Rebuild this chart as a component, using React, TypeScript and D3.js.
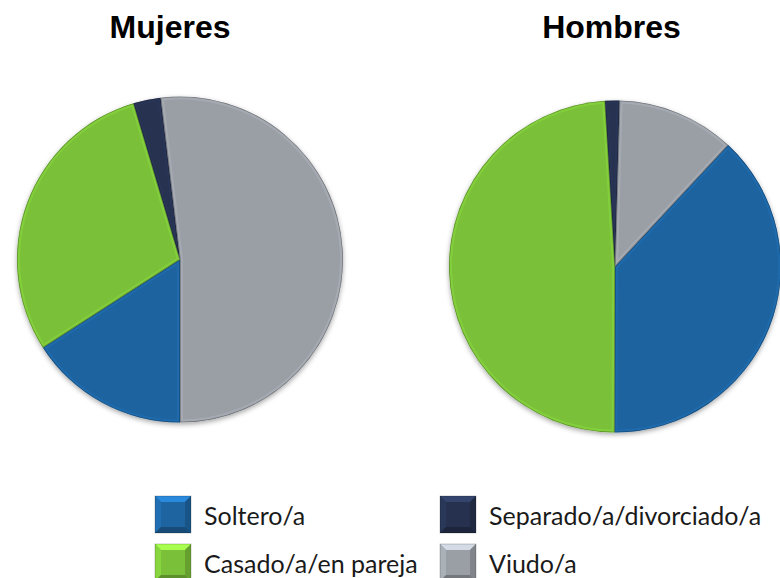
import React from 'react';
import * as d3 from 'd3';

const categories = ['Soltero/a', 'Casado/a/en pareja', 'Separado/a/divorciado/a', 'Viudo/a'];
const mujeresValues = [15.9, 29.5, 2.7, 51.9];
const hombresValues = [38.1, 49.0, 1.4, 11.5];
const titles = ['Mujeres', 'Hombres'];
const colors = ['#1e64a0', '#7ac039', '#25314f', '#9a9fa6'];

const W = 780;
const H = 578;

const pies = [
  { title: titles[0], values: mujeresValues, cx: 180, cy: 259.5, r: 163, start: 180, titleX: 170 },
  { title: titles[1], values: hombresValues, cx: 615, cy: 266.5, r: 166, start: 43, titleX: 611.5 },
];

// legend layout: row-major order as in reference
const legendOrder = [0, 2, 1, 3];
const legendCols = [155, 440];
const legendRows = [496, 544];

function BevelBox({ x, y, w, h, color }: { x: number; y: number; w: number; h: number; color: string }) {
  const b = 6;
  const c = d3.color(color)!;
  const light = c.brighter(0.9).formatHex();
  const mid = c.brighter(0.3).formatHex();
  const dark = c.darker(0.5).formatHex();
  const darker = c.darker(0.8).formatHex();
  return (
    <g>
      <rect x={x} y={y} width={w} height={h} fill={color} />
      <polygon points={`${x},${y} ${x + w},${y} ${x + w - b},${y + b} ${x + b},${y + b}`} fill={light} />
      <polygon points={`${x},${y} ${x + b},${y + b} ${x + b},${y + h - b} ${x},${y + h}`} fill={mid} />
      <polygon points={`${x + w},${y} ${x + w},${y + h} ${x + w - b},${y + h - b} ${x + w - b},${y + b}`} fill={dark} />
      <polygon points={`${x},${y + h} ${x + b},${y + h - b} ${x + w - b},${y + h - b} ${x + w},${y + h}`} fill={darker} />
      <rect x={x} y={y} width={w} height={h} fill="none" stroke="rgba(0,0,0,0.25)" strokeWidth={0.8} />
    </g>
  );
}

export default function App() {
  return (
    <svg width={W} height={H} style={{ position: 'absolute', left: 0, top: 0, background: '#fff' }}>
      <defs>
        <filter id="shadow" x="-20%" y="-20%" width="140%" height="140%">
          <feDropShadow dx="0" dy="2" stdDeviation="2.5" floodColor="#000" floodOpacity="0.35" />
        </filter>
      </defs>
      {pies.map((p, pi) => {
        const pie = d3
          .pie<number>()
          .sort(null)
          .value((d) => d)
          .startAngle((p.start * Math.PI) / 180)
          .endAngle(((p.start + 360) * Math.PI) / 180);
        const arcs = pie(p.values);
        const arc = d3.arc<d3.PieArcDatum<number>>().innerRadius(0).outerRadius(p.r);
        return (
          <g key={pi}>
            <text
              x={p.titleX}
              y={38}
              textAnchor="middle"
              fontFamily="Liberation Sans, Arial, sans-serif"
              fontWeight="bold"
              fontSize={32}
              fill="#000"
            >
              {p.title}
            </text>
            <g transform={`translate(${p.cx},${p.cy})`}>
              <defs>
                {arcs.map((a, i) => (
                  <clipPath id={`clip-${pi}-${i}`} key={i}>
                    <path d={arc(a)!} />
                  </clipPath>
                ))}
              </defs>
              <g filter="url(#shadow)">
                {arcs.map((a, i) => (
                  <path key={i} d={arc(a)!} fill={colors[i]} />
                ))}
              </g>
              {arcs.map((a, i) => (
                <g key={i} clipPath={`url(#clip-${pi}-${i})`}>
                  <path
                    d={arc(a)!}
                    fill="none"
                    stroke={d3.color(colors[i])!.brighter(0.6).formatHex()}
                    strokeOpacity={0.3}
                    strokeWidth={6}
                    strokeLinejoin="round"
                  />
                  <path d={arc(a)!} fill="none" stroke="rgba(0,0,0,0.3)" strokeWidth={1.5} />
                </g>
              ))}
            </g>
          </g>
        );
      })}
      {legendOrder.map((ci, k) => {
        const col = k % 2;
        const row = Math.floor(k / 2);
        const x = legendCols[col];
        const y = legendRows[row];
        return (
          <g key={ci}>
            <BevelBox x={x} y={y} w={36} h={37} color={colors[ci]} />
            <text
              x={x + 49}
              y={y + 29}
              fontFamily="Lato, 'Open Sans', sans-serif"
              fontSize={25}
              fill="#1a1a1a"
            >
              {categories[ci]}
            </text>
          </g>
        );
      })}
    </svg>
  );
}
